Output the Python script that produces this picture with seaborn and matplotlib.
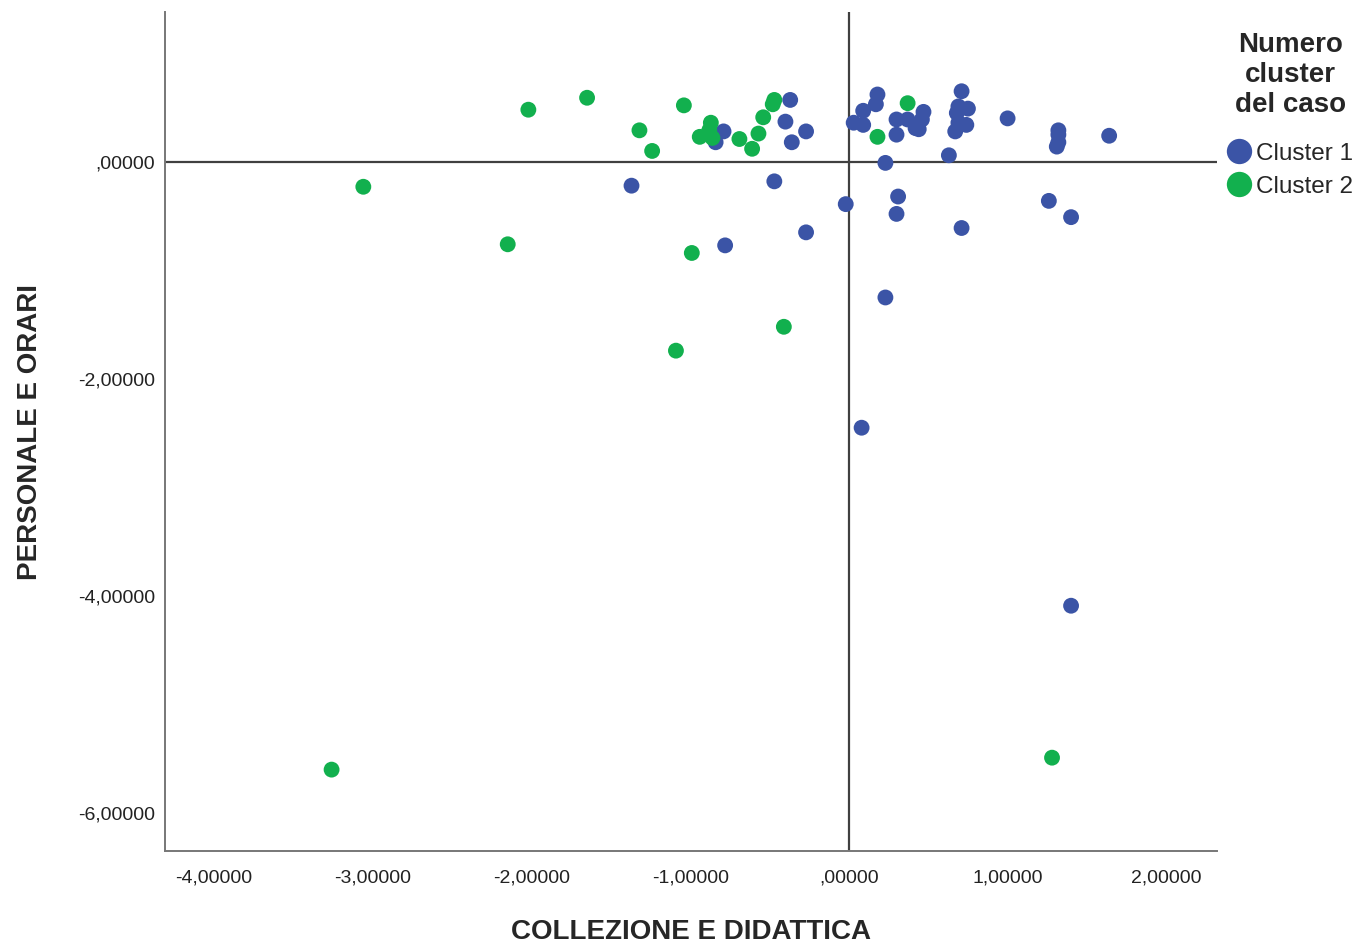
import pandas as pd
import seaborn as sns
import matplotlib.pyplot as plt
from matplotlib.ticker import FuncFormatter

# Cluster 1 (blue) points
c1_x = [-0.37, -0.40, -0.27, -0.36, -0.79, -0.84, -1.37, -0.47, -0.02, -0.27, -0.78,
        0.03, 0.18, 0.17, 0.09, 0.09, 0.30, 0.37, 0.30, 0.42, 0.47, 0.46, 0.44,
        0.71, 0.69, 0.75, 0.68, 0.69, 0.74, 0.67, 1.00, 1.32, 1.32, 1.32, 1.31,
        1.64, 0.63, 0.23, 0.31, 0.30, 0.71, 1.26, 1.40, 0.23, 0.08, 1.40]
c1_y = [0.57, 0.37, 0.28, 0.18, 0.28, 0.18, -0.22, -0.18, -0.39, -0.65, -0.77,
        0.36, 0.62, 0.53, 0.47, 0.34, 0.39, 0.39, 0.25, 0.31, 0.46, 0.39, 0.30,
        0.65, 0.51, 0.49, 0.45, 0.36, 0.34, 0.28, 0.40, 0.29, 0.25, 0.18, 0.14,
        0.24, 0.06, -0.01, -0.32, -0.48, -0.61, -0.36, -0.51, -1.25, -2.45, -4.09]

# Cluster 2 (green) points
c2_x = [-2.02, -1.65, -1.04, -1.32, -1.24, -3.06, -2.15, -0.99, -0.41, -1.09,
        -3.26, 1.28, 0.37, 0.18, -0.87, -0.94, -0.86, -0.69, -0.61, -0.57,
        -0.54, -0.48, -0.47, -0.88]
c2_y = [0.48, 0.59, 0.52, 0.29, 0.10, -0.23, -0.76, -0.84, -1.52, -1.74,
        -5.60, -5.49, 0.54, 0.23, 0.36, 0.23, 0.22, 0.21, 0.12, 0.26,
        0.41, 0.53, 0.57, 0.29]

cluster_names = ["Cluster 1", "Cluster 2"]
cluster_colors = ["#3b54a6", "#12b04e"]
x_ticks = [-4, -3, -2, -1, 0, 1, 2]
y_ticks = [0, -2, -4, -6]

df = pd.DataFrame({
    "x": c1_x + c2_x,
    "y": c1_y + c2_y,
    "cluster": [cluster_names[0]] * len(c1_x) + [cluster_names[1]] * len(c2_x),
})

sns.set_style("white")
plt.rcParams["font.family"] = ["Liberation Sans", "DejaVu Sans"]

fig = plt.figure(figsize=(13.6, 9.46), dpi=100)
ax = fig.add_axes([0.1213, 0.1004, 0.7736, 0.8869])

# reference lines through origin
ax.axhline(0, color="#404040", lw=1.6, zorder=1)
ax.axvline(0, color="#404040", lw=1.6, zorder=1)

sns.scatterplot(data=df, x="x", y="y", hue="cluster", hue_order=cluster_names,
                palette=cluster_colors, s=130, edgecolor="none", ax=ax, zorder=3)

ax.set_xlim(-4.31, 2.32)
ax.set_ylim(-6.35, 1.38)
ax.set_xticks(x_ticks)
ax.set_yticks(y_ticks)

def it_fmt(v, pos):
    s = f"{v:.5f}".replace(".", ",")
    if s.startswith("0,"):
        s = s[1:]
    if s.startswith("-0,"):
        s = "," + s[3:]
    return s

ax.xaxis.set_major_formatter(FuncFormatter(it_fmt))
ax.yaxis.set_major_formatter(FuncFormatter(it_fmt))
ax.tick_params(axis="both", length=0, labelsize=14, colors="#222222")
ax.tick_params(axis="x", pad=13)
ax.tick_params(axis="y", pad=7)

for side in ["top", "right"]:
    ax.spines[side].set_visible(False)
for side in ["left", "bottom"]:
    ax.spines[side].set_color("#777777")
    ax.spines[side].set_linewidth(1.4)

ax.set_xlabel("COLLEZIONE E DIDATTICA", fontsize=20, fontweight="bold", labelpad=24)
ax.set_ylabel("PERSONALE E ORARI", fontsize=20, fontweight="bold", labelpad=25)

leg = ax.legend(title="Numero\ncluster\ndel caso", loc="upper center",
                bbox_to_anchor=(1.0694, 0.988), frameon=False, fontsize=17.5,
                title_fontproperties={"size": 20, "weight": "bold"},
                markerscale=1.6, handlelength=1.0, handletextpad=0.2,
                borderaxespad=0.0, labelspacing=0.45)
leg.get_title().set_multialignment("center")
leg._legend_box.align = "center"
leg._legend_box.sep = 18

fig.savefig("out.png", dpi=100)
